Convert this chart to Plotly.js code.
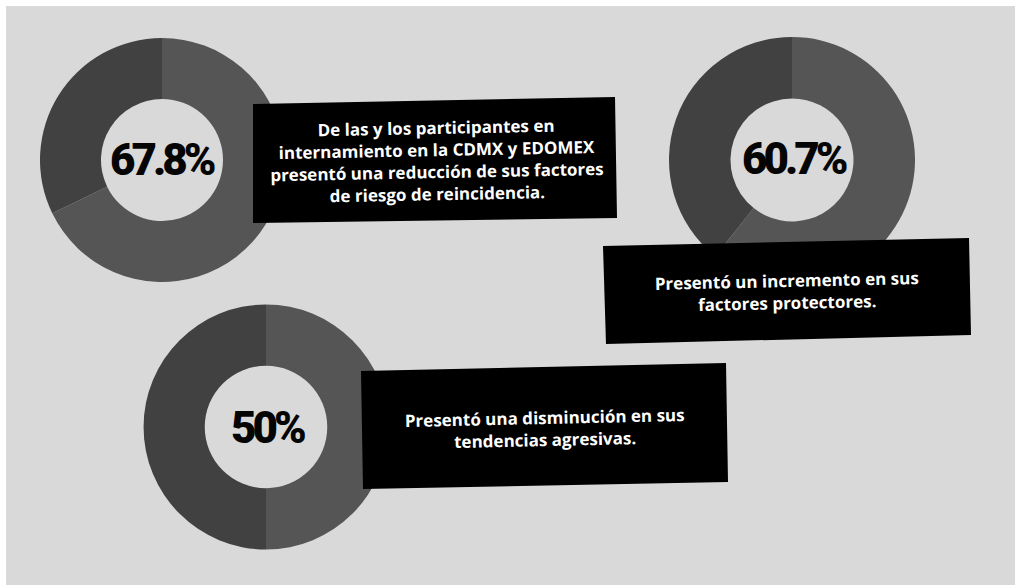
<!DOCTYPE html>
<html>
<head>
<meta charset="utf-8">
<script src="https://cdn.plot.ly/plotly-3.0.1.min.js"></script>
<style>
html,body{margin:0;padding:0;background:#fff;}
#chart{width:1015px;height:585px;}
g.annotation[data-index="0"] text, g.annotation[data-index="1"] text, g.annotation[data-index="2"] text { letter-spacing: -4px; }
</style>
</head>
<body>
<div id="chart"></div>
<script>
// ---- data ----
const percentages = [67.8, 60.7, 50];
const percentLabels = ['67.8%', '60.7%', '50%'];
const descriptions = [
  'De las y los participantes en<br>internamiento en la CDMX y EDOMEX<br>presentó una reducción de sus factores<br>de riesgo de reincidencia.',
  'Presentó un incremento en sus<br>factores protectores.',
  'Presentó una disminución en sus<br>tendencias agresivas.'
];

// ---- layout (pixel geometry) ----
const W = 1015, H = 585;
const donuts = [ {cx: 162, cy: 160, r: 122}, {cx: 792, cy: 160, r: 123}, {cx: 266, cy: 427, r: 122.5} ];
const labelPos = [ {x: 161, y: 160}, {x: 793, y: 159}, {x: 267, y: 428} ];
const boxes = [
  [[253,104],[615,97],[617,218],[253,223]],
  [[603,246],[969,238],[971,335],[606,344]],
  [[361,371],[726,363],[728,482],[363,489]]
];
const textPos = [ {x: 436, y: 160, a: -1.1}, {x: 787, y: 291, a: -1.25}, {x: 545, y: 428, a: -1.25} ];

const px = x => x / W;
const py = y => 1 - y / H;

const traces = percentages.map((p, i) => {
  const d = donuts[i];
  return {
    type: 'pie',
    values: [p, 100 - p],
    labels: ['Sí', 'No'],
    sort: false,
    direction: 'clockwise',
    rotation: 0,
    hole: 0.5,
    textinfo: 'none',
    hoverinfo: 'none',
    showlegend: false,
    marker: { colors: ['#555555', '#414141'], line: { width: 0 } },
    domain: { x: [px(d.cx - d.r), px(d.cx + d.r)], y: [py(d.cy + d.r), py(d.cy - d.r)] }
  };
});

const shapes = [
  { type: 'rect', xref: 'paper', yref: 'paper', layer: 'below',
    x0: px(6), x1: 1, y0: 0, y1: py(6), fillcolor: '#d9d9d9', line: { width: 0 } }
];
boxes.forEach(b => {
  const path = 'M ' + b.map(p => px(p[0]) + ',' + py(p[1])).join(' L ') + ' Z';
  shapes.push({ type: 'path', xref: 'paper', yref: 'paper', layer: 'above',
    path: path, fillcolor: '#000000', line: { width: 0 } });
});

const annotations = [];
percentLabels.forEach((t, i) => {
  annotations.push({ xref: 'paper', yref: 'paper', x: px(labelPos[i].x), y: py(labelPos[i].y),
    xanchor: 'center', yanchor: 'middle', showarrow: false, text: t,
    font: { family: "Roboto, 'DejaVu Sans', sans-serif", size: 44, color: '#050505', weight: 900 } });
});
descriptions.forEach((t, i) => {
  annotations.push({ xref: 'paper', yref: 'paper', x: px(textPos[i].x), y: py(textPos[i].y),
    xanchor: 'center', yanchor: 'middle', showarrow: false, text: t, textangle: textPos[i].a,
    align: 'center',
    font: { family: 'Open Sans', size: 17, color: '#ffffff', weight: 700 } });
});

const layout = {
  width: W, height: H,
  margin: { l: 0, r: 0, t: 0, b: 0, pad: 0 },
  paper_bgcolor: '#ffffff',
  plot_bgcolor: 'rgba(0,0,0,0)',
  showlegend: false,
  shapes: shapes,
  annotations: annotations
};

Plotly.newPlot('chart', traces, layout, { displayModeBar: false, staticPlot: true });
</script>
</body>
</html>
